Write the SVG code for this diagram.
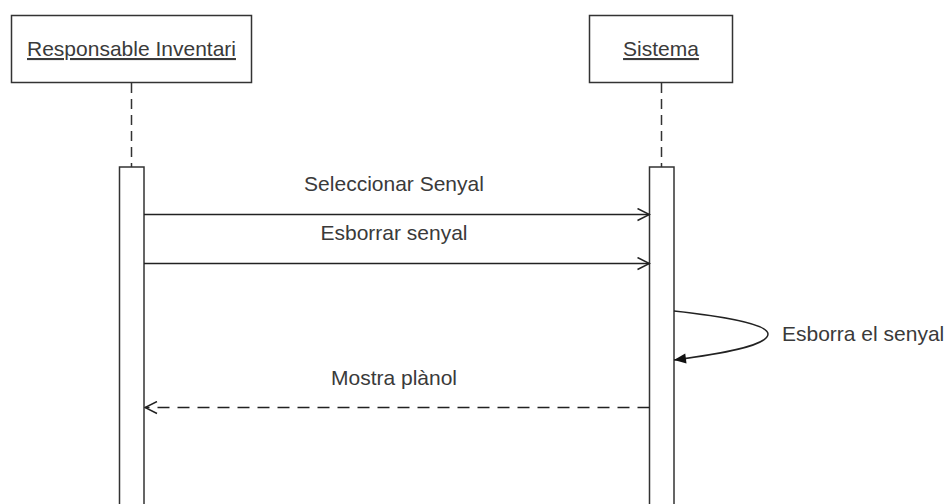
<svg xmlns="http://www.w3.org/2000/svg" width="950" height="504" viewBox="0 0 950 504">
  <style>
    .box { fill: #ffffff; stroke: #333333; stroke-width: 1.5; }
    .life { stroke: #333333; stroke-width: 1.5; stroke-dasharray: 10 6; fill: none; }
    .act { fill: #ffffff; stroke: #333333; stroke-width: 1.5; }
    .msg { stroke: #222222; stroke-width: 1.5; fill: none; }
    .ret { stroke: #222222; stroke-width: 1.5; fill: none; stroke-dasharray: 12 8; }
    .lbl { font-family: "Liberation Sans", Arial, sans-serif; font-size: 21px; fill: #3a3a3a; }
    .name { font-family: "Liberation Sans", Arial, sans-serif; font-size: 21px; fill: #3a3a3a; text-anchor: middle; text-decoration: underline; }
  </style>
  <defs>
    <marker id="open" viewBox="0 0 14 14" refX="13" refY="7" markerWidth="14" markerHeight="14" markerUnits="userSpaceOnUse" orient="auto">
      <path d="M1,1 L13,7 L1,13" fill="none" stroke="#222222" stroke-width="1.5"/>
    </marker>
    <marker id="filled" viewBox="0 0 14 14" refX="13" refY="7" markerWidth="14" markerHeight="14" markerUnits="userSpaceOnUse" orient="auto">
      <path d="M1,2 L13,7 L1,12 Z" fill="#111111"/>
    </marker>
  </defs>
  <rect width="950" height="504" fill="#ffffff"/>

  <g id="responsable">
    <rect class="box" x="11.5" y="15.5" width="240" height="67"/>
    <text class="name" x="131.5" y="56">Responsable Inventari</text>
    <line class="life" x1="131.5" y1="83" x2="131.5" y2="167"/>
    <rect class="act" x="119.5" y="167" width="24.5" height="350"/>
  </g>

  <g id="sistema">
    <rect class="box" x="589.5" y="15.5" width="143" height="67"/>
    <text class="name" x="661" y="56">Sistema</text>
    <line class="life" x1="661.5" y1="83" x2="661.5" y2="167"/>
    <rect class="act" x="649.5" y="167" width="24.5" height="350"/>
  </g>

  <g id="connectors">
    <line class="msg" x1="144" y1="214.5" x2="649.5" y2="214.5" marker-end="url(#open)"/>
    <text class="lbl" x="394" y="191" text-anchor="middle">Seleccionar Senyal</text>

    <line class="msg" x1="144" y1="263.5" x2="649.5" y2="263.5" marker-end="url(#open)"/>
    <text class="lbl" x="394" y="240" text-anchor="middle">Esborrar senyal</text>

    <path class="msg" d="M674,311 C720,316 768,324 768,334 C768,346 720,354 674,360" marker-end="url(#filled)"/>
    <text class="lbl" x="782" y="341">Esborra el senyal</text>

    <line class="ret" x1="649.5" y1="407.5" x2="145" y2="407.5" marker-end="url(#open)"/>
    <text class="lbl" x="394" y="385" text-anchor="middle">Mostra plànol</text>
  </g>
</svg>
